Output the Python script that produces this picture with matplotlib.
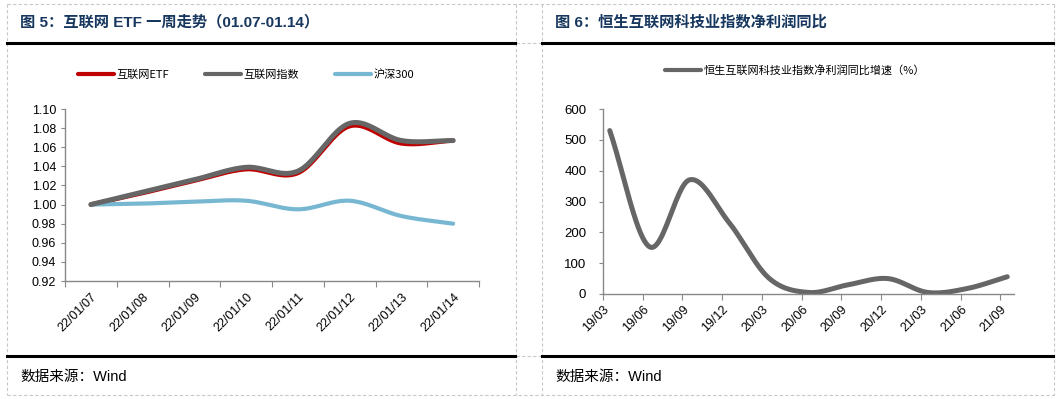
import numpy as np
import matplotlib
matplotlib.use("Agg")
import matplotlib.pyplot as plt
from matplotlib.lines import Line2D

plt.rcParams['font.family'] = ['Liberation Sans', 'Noto Sans CJK SC', 'DejaVu Sans']

# ---------------- data ----------------
left_dates = ["22/01/07", "22/01/08", "22/01/09", "22/01/10",
              "22/01/11", "22/01/12", "22/01/13", "22/01/14"]
etf = [1.000, 1.012, 1.025, 1.037, 1.033, 1.082, 1.064, 1.067]
idx = [1.000, 1.013, 1.026, 1.039, 1.035, 1.085, 1.067, 1.067]
hs300 = [1.000, 1.001, 1.003, 1.004, 0.995, 1.004, 0.988, 0.980]

right_dates = ["19/03", "19/06", "19/09", "19/12", "20/03", "20/06",
               "20/09", "20/12", "21/03", "21/06", "21/09"]
profit_yoy = [530, 153, 370, 232, 52, 5, 30, 50, 5, 18, 56]

left_title = "图 5：互联网 ETF 一周走势（01.07-01.14）"
right_title = "图 6：恒生互联网科技业指数净利润同比"
left_labels = ["互联网ETF", "互联网指数", "沪深300"]
right_label = "恒生互联网科技业指数净利润同比增速（%）"
source = "数据来源：Wind"

C_RED = "#C00000"
C_GRAY = "#666666"
C_BLUE = "#78B7D1"
C_TITLE = "#17375E"
C_AX = "#888888"


def smooth(x, y, n=24):
    """Catmull-Rom style smoothing for display (like Excel smoothed lines)."""
    x = np.asarray(x, float)
    y = np.asarray(y, float)
    px = np.concatenate([[2 * x[0] - x[1]], x, [2 * x[-1] - x[-2]]])
    py = np.concatenate([[2 * y[0] - y[1]], y, [2 * y[-1] - y[-2]]])
    xs, ys = [], []
    t = np.linspace(0, 1, n, endpoint=False)
    for i in range(1, len(px) - 2):
        p0, p1, p2, p3 = (np.array([px[j], py[j]]) for j in range(i - 1, i + 3))
        m1 = (p2 - p0) / 6.0
        m2 = (p3 - p1) / 6.0
        b0, b1, b2, b3 = p1, p1 + m1, p2 - m2, p2
        pts = ((1 - t) ** 3)[:, None] * b0 + (3 * (1 - t) ** 2 * t)[:, None] * b1 \
            + (3 * (1 - t) * t ** 2)[:, None] * b2 + (t ** 3)[:, None] * b3
        xs.extend(pts[:, 0]); ys.extend(pts[:, 1])
    xs.append(x[-1]); ys.append(y[-1])
    return np.array(xs), np.array(ys)


W, H = 1056, 399
fig = plt.figure(figsize=(W / 100, H / 100), dpi=100)


def fx(px):
    return px / W


def fy(py):
    return 1 - py / H


# ---------- frame (dashed table grid) ----------
dash_kw = dict(color="#C8C8C8", lw=0.8, ls=(0, (3, 2)), transform=fig.transFigure)
for xv in [7, 516, 542, 1054]:
    fig.add_artist(Line2D([fx(xv), fx(xv)], [fy(4), fy(395)], **dash_kw))
for yv in [4, 395]:
    fig.add_artist(Line2D([fx(7), fx(1054)], [fy(yv), fy(yv)], **dash_kw))
for yv in [43, 356]:
    fig.add_artist(Line2D([fx(516), fx(542)], [fy(yv), fy(yv)], **dash_kw))

solid_kw = dict(color="black", lw=2.2, transform=fig.transFigure)
for (x0, x1) in [(7, 515), (542, 1053)]:
    for yv in [43, 356]:
        fig.add_artist(Line2D([fx(x0), fx(x1)], [fy(yv), fy(yv)], **solid_kw))

# titles
fig.text(fx(20), fy(22), left_title, fontsize=11, fontweight="bold", color=C_TITLE,
         va="center", ha="left", family=['Liberation Sans', 'Noto Sans CJK SC'])
fig.text(fx(555), fy(22), right_title, fontsize=11, fontweight="bold", color=C_TITLE,
         va="center", ha="left", family=['Liberation Sans', 'Noto Sans CJK SC'])
# sources
for xv in [20, 555]:
    fig.text(fx(xv), fy(377), source, fontsize=10.5, color="black", va="center", ha="left",
             family=['Liberation Sans Narrow', 'Liberation Sans', 'Noto Sans CJK SC'])


def style_axes(ax, size=9):
    for s in ["top", "right"]:
        ax.spines[s].set_visible(False)
    for s in ["left", "bottom"]:
        ax.spines[s].set_color(C_AX)
        ax.spines[s].set_linewidth(1.0)
    ax.tick_params(axis="both", which="both", colors=C_AX, labelcolor="black",
                   labelsize=size, direction="out")
    ax.tick_params(axis="y", length=3, width=0.8)


# ---------------- left chart ----------------
axL = fig.add_axes([fx(65), fy(281), fx(479) - fx(65), fy(109) - fy(281)])
n = len(left_dates)
xpos = np.arange(n)
for vals, col, lw, lab, z in [(etf, C_RED, 3.2, left_labels[0], 2),
                              (idx, C_GRAY, 3.6, left_labels[1], 3),
                              (hs300, C_BLUE, 3.0, left_labels[2], 2)]:
    sx, sy = smooth(xpos, vals)
    axL.plot(sx, sy, color=col, lw=lw, solid_capstyle="round", label=lab, zorder=z)
axL.set_xlim(-0.5, n - 0.5)
axL.set_ylim(0.92, 1.10)
axL.set_yticks(np.arange(0.92, 1.1001, 0.02))
axL.set_yticklabels([f"{v:.2f}" for v in np.arange(0.92, 1.1001, 0.02)])
axL.set_xticks(xpos)
axL.set_xticklabels(left_dates, rotation=45, ha="right", rotation_mode="anchor")
axL.set_xticks(np.arange(-0.5, n, 1.0), minor=True)
style_axes(axL, 9)
axL.tick_params(axis="x", which="major", length=0, pad=7)
axL.tick_params(axis="x", which="minor", length=4, width=0.8)

handlesL = [Line2D([0], [0], color=c, lw=3.0, solid_capstyle="round") for c in [C_RED, C_GRAY, C_BLUE]]
fig.legend(handlesL, left_labels, loc="center", bbox_to_anchor=(fx(246), fy(75)),
           ncol=3, frameon=False, handlelength=3.3, handletextpad=0.2,
           columnspacing=3.2, prop={'family': ['Noto Sans CJK SC', 'Liberation Sans'], 'size': 8})

# ---------------- right chart ----------------
axR = fig.add_axes([fx(603), fy(294), fx(1014) - fx(603), fy(109) - fy(294)])
m = len(right_dates)
rx = np.arange(m) + 0.17
sx, sy = smooth(rx, profit_yoy)
axR.plot(sx, sy, color=C_GRAY, lw=3.6, solid_capstyle="round")
axR.set_xlim(0, 10.34)
axR.set_ylim(0, 600)
axR.set_yticks(np.arange(0, 601, 100))
axR.set_xticks(np.arange(m))
axR.set_xticklabels(right_dates, rotation=45, ha="right", rotation_mode="anchor")
style_axes(axR, 9.5)
axR.tick_params(axis="y", pad=9)
axR.tick_params(axis="x", length=4, width=0.8, pad=3, labelsize=9)

handlesR = [Line2D([0], [0], color=C_GRAY, lw=3.0, solid_capstyle="round")]
fig.legend(handlesR, [right_label], loc="center", bbox_to_anchor=(fx(795), fy(70)),
           frameon=False, handlelength=3.3, handletextpad=0.2,
           prop={'family': ['Noto Sans CJK SC', 'Liberation Sans'], 'size': 8})

fig.savefig("out.png", dpi=100)
